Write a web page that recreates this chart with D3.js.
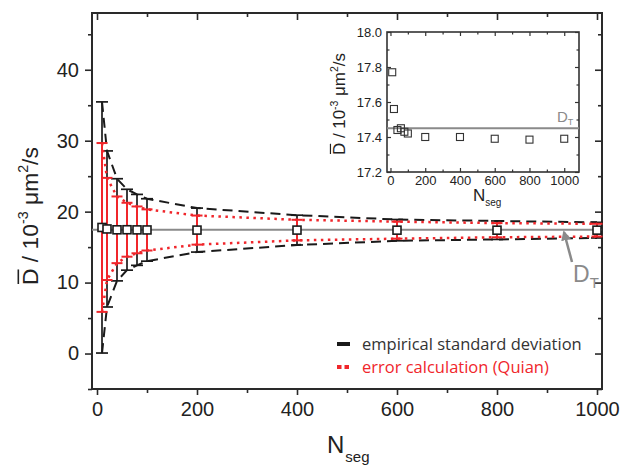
<!DOCTYPE html>
<html>
<head>
<meta charset="utf-8">
<script src="https://cdn.jsdelivr.net/npm/d3@7"></script>
<style>
  body { margin: 0; background: #fff; }
  svg { display: block; font-family: "Liberation Sans", Arial, sans-serif; }
</style>
</head>
<body>
<svg id="chart" width="621" height="469"></svg>
<script>
// number of segments
var nseg = [10, 20, 40, 60, 80, 100, 200, 400, 600, 800, 1000];
// mean diffusion coefficient (10^-3 um^2/s)
var meanD = [17.77, 17.56, 17.44, 17.45, 17.43, 17.42, 17.40, 17.40, 17.39, 17.385, 17.39];
// empirical standard deviation (half width of black bars)
var sdEmpirical = [17.7, 11.0, 7.2, 5.7, 5.0, 4.4, 3.1, 2.1, 1.5, 1.3, 1.1];
// error calculation (Quian), half width of red bars
var sdCalc = [11.9, 7.2, 4.7, 3.8, 3.3, 2.9, 2.05, 1.45, 1.2, 1.0, 0.9];
var trueD = 17.45;

var xTicks = [0, 200, 400, 600, 800, 1000];
var yTicks = [0, 10, 20, 30, 40];
var insetYTicks = [17.2, 17.4, 17.6, 17.8, 18.0];

var data = nseg.map(function (n, i) {
    return { n: n, d: meanD[i], sd: sdEmpirical[i], se: sdCalc[i] };
});

var svg = d3.select("#chart");
var frameColor = "#2a2a2a";
var red = "#f0262b";

// main plot area
var margin = { left: 92, top: 13, right: 602, bottom: 389 };
var x = d3.scaleLinear().domain([-10, 1010]).range([margin.left, margin.right]);
var y = d3.scaleLinear().domain([-5, 48]).range([margin.bottom, margin.top]);

var minorX = d3.range(100, 1001, 200);
var minorY = [-5, 5, 15, 25, 35, 45];

function styleAxis(g) {
    g.select(".domain").remove();
    g.selectAll("line").attr("stroke", frameColor).attr("stroke-width", 1.6);
    g.selectAll("text").attr("fill", "#222").attr("font-family", "Liberation Sans, Arial, sans-serif");
}

// frame
svg.append("rect")
    .attr("x", margin.left).attr("y", margin.top)
    .attr("width", margin.right - margin.left).attr("height", margin.bottom - margin.top)
    .attr("fill", "none").attr("stroke", frameColor).attr("stroke-width", 2);

// bottom axis, outward ticks
svg.append("g").attr("transform", "translate(0," + margin.bottom + ")")
    .call(d3.axisBottom(x).tickValues(xTicks).tickFormat(d3.format("d")).tickSizeInner(6).tickSizeOuter(0).tickPadding(7))
    .call(styleAxis)
    .selectAll("text").attr("font-size", 20);
svg.append("g").attr("transform", "translate(0," + margin.bottom + ")")
    .call(d3.axisBottom(x).tickValues(minorX).tickSize(4).tickFormat(""))
    .call(styleAxis);
// top axis, inward ticks
svg.append("g").attr("transform", "translate(0," + margin.top + ")")
    .call(d3.axisTop(x).tickValues(xTicks).tickSize(-7).tickFormat(""))
    .call(styleAxis);
svg.append("g").attr("transform", "translate(0," + margin.top + ")")
    .call(d3.axisTop(x).tickValues(minorX).tickSize(-4).tickFormat(""))
    .call(styleAxis);
// left axis, outward ticks
svg.append("g").attr("transform", "translate(" + margin.left + ",0)")
    .call(d3.axisLeft(y).tickValues(yTicks).tickSizeInner(7).tickSizeOuter(0).tickPadding(6))
    .call(styleAxis)
    .selectAll("text").attr("font-size", 20);
svg.append("g").attr("transform", "translate(" + margin.left + ",0)")
    .call(d3.axisLeft(y).tickValues(minorY).tickSize(4).tickFormat(""))
    .call(styleAxis);
// right axis, inward ticks
svg.append("g").attr("transform", "translate(" + margin.right + ",0)")
    .call(d3.axisRight(y).tickValues(yTicks).tickSize(-7).tickFormat(""))
    .call(styleAxis);
svg.append("g").attr("transform", "translate(" + margin.right + ",0)")
    .call(d3.axisRight(y).tickValues(minorY).tickSize(-4).tickFormat(""))
    .call(styleAxis);

// true D line
svg.append("line")
    .attr("x1", margin.left).attr("x2", margin.right)
    .attr("y1", y(trueD)).attr("y2", y(trueD))
    .attr("stroke", "#8a8a8a").attr("stroke-width", 2);

// envelopes
var upperLine = function (key) {
    return d3.line().x(function (d) { return x(d.n); }).y(function (d) { return y(d.d + d[key]); });
};
var lowerLine = function (key) {
    return d3.line().x(function (d) { return x(d.n); }).y(function (d) { return y(d.d - d[key]); });
};

// black error bars (empirical)
var eb = svg.append("g").attr("stroke", "#1a1a1a").attr("stroke-width", 1.7);
data.forEach(function (d) {
    eb.append("line").attr("x1", x(d.n)).attr("x2", x(d.n))
        .attr("y1", y(d.d + d.sd)).attr("y2", y(d.d - d.sd));
    [d.d + d.sd, d.d - d.sd].forEach(function (v) {
        eb.append("line").attr("x1", x(d.n) - 6).attr("x2", x(d.n) + 6)
            .attr("y1", y(v)).attr("y2", y(v));
    });
});
svg.append("path").datum(data).attr("d", upperLine("sd"))
    .attr("fill", "none").attr("stroke", "#1a1a1a").attr("stroke-width", 2).attr("stroke-dasharray", "10,6");
svg.append("path").datum(data).attr("d", lowerLine("sd"))
    .attr("fill", "none").attr("stroke", "#1a1a1a").attr("stroke-width", 2).attr("stroke-dasharray", "10,6");

// red error bars (calculation)
var rb = svg.append("g").attr("stroke", red).attr("stroke-width", 2);
data.forEach(function (d) {
    rb.append("line").attr("x1", x(d.n)).attr("x2", x(d.n))
        .attr("y1", y(d.d + d.se)).attr("y2", y(d.d - d.se));
    [d.d + d.se, d.d - d.se].forEach(function (v) {
        rb.append("line").attr("x1", x(d.n) - 5.5).attr("x2", x(d.n) + 5.5)
            .attr("y1", y(v)).attr("y2", y(v));
    });
});
svg.append("path").datum(data).attr("d", upperLine("se"))
    .attr("fill", "none").attr("stroke", red).attr("stroke-width", 2.5).attr("stroke-dasharray", "2.5,4.5");
svg.append("path").datum(data).attr("d", lowerLine("se"))
    .attr("fill", "none").attr("stroke", red).attr("stroke-width", 2.5).attr("stroke-dasharray", "2.5,4.5");

// data squares
svg.append("g").selectAll("rect").data(data).enter().append("rect")
    .attr("x", function (d) { return x(d.n) - 4; })
    .attr("y", function (d) { return y(d.d) - 4; })
    .attr("width", 8).attr("height", 8)
    .attr("fill", "#fff").attr("stroke", "#1a1a1a").attr("stroke-width", 1.6);

// D_T arrow annotation
svg.append("defs").append("marker")
    .attr("id", "arrow").attr("viewBox", "0 0 10 10").attr("refX", 8).attr("refY", 5)
    .attr("markerWidth", 4).attr("markerHeight", 4).attr("orient", "auto")
    .append("path").attr("d", "M0,0 L10,5 L0,10 z").attr("fill", "#8a8a8a");
svg.append("line")
    .attr("x1", x(950)).attr("y1", y(12.9))
    .attr("x2", x(934)).attr("y2", y(17.1))
    .attr("stroke", "#8a8a8a").attr("stroke-width", 2.5).attr("marker-end", "url(#arrow)");
var dt = svg.append("text").attr("x", x(952)).attr("y", y(10.1))
    .attr("fill", "#8a8a8a").attr("font-size", 23);
dt.append("tspan").text("D");
dt.append("tspan").attr("font-size", 15).attr("dy", 6).text("T");

// legend
var legendFont = "Open Sans, Liberation Sans, Arial, sans-serif";
svg.append("line").attr("x1", 337).attr("x2", 350).attr("y1", 344).attr("y2", 344)
    .attr("stroke", "#1a1a1a").attr("stroke-width", 4);
svg.append("text").attr("x", 362).attr("y", 349.5).attr("font-size", 16.5).attr("fill", "#333")
    .attr("font-family", legendFont)
    .text("empirical standard deviation");
svg.append("line").attr("x1", 337).attr("x2", 352).attr("y1", 367).attr("y2", 367)
    .attr("stroke", red).attr("stroke-width", 4).attr("stroke-dasharray", "4.5,3");
svg.append("text").attr("x", 362).attr("y", 372.5).attr("font-size", 16.5).attr("fill", red)
    .attr("font-family", legendFont)
    .text("error calculation (Quian)");

// axis titles
var xt = svg.append("text").attr("x", 327).attr("y", 453).attr("font-size", 24).attr("fill", "#222");
xt.append("tspan").text("N");
xt.append("tspan").attr("font-size", 15).attr("dy", 9).attr("dx", 1).text("seg");

// rotated y title: D-bar / 10^-3 um^2/s, running from yStart up to yEnd
function yTitle(xBase, yStart, yEnd, size) {
    var g = svg.append("g").attr("transform", "translate(" + xBase + "," + yStart + ") rotate(-90)");
    var t = g.append("text").attr("fill", "#222");
    function fill(s) {
        t.selectAll("tspan").remove();
        t.attr("font-size", s);
        t.append("tspan").text("D / 10");
        t.append("tspan").attr("font-size", s * 0.62).attr("dy", -s * 0.42).text("-3");
        t.append("tspan").attr("dy", s * 0.42).text(" \u03bcm");
        t.append("tspan").attr("font-size", s * 0.62).attr("dy", -s * 0.42).text("2");
        t.append("tspan").attr("dy", s * 0.42).text("/s");
    }
    fill(size);
    var len = t.node().getBBox().width;
    var fitted = Math.min(size * 1.15, size * (yStart - yEnd) / len);
    fill(fitted);
    // overbar on D
    var box = t.node().getExtentOfChar(0);
    g.append("line")
        .attr("x1", box.x + 1).attr("x2", box.x + box.width - 1)
        .attr("y1", -fitted * 0.86).attr("y2", -fitted * 0.86)
        .attr("stroke", "#222").attr("stroke-width", fitted * 0.07);
    return g;
}
yTitle(38, 285, 147, 22);

// inset
var inset = { left: 387, top: 32, right: 579, bottom: 172 };
var ix = d3.scaleLinear().domain([-20, 1085]).range([inset.left, inset.right]);
var iy = d3.scaleLinear().domain([17.2, 18.0]).range([inset.bottom, inset.top]);
var ig = svg.append("g");
ig.append("rect")
    .attr("x", inset.left).attr("y", inset.top)
    .attr("width", inset.right - inset.left).attr("height", inset.bottom - inset.top)
    .attr("fill", "#fff").attr("stroke", "#333").attr("stroke-width", 1.6);

var insetXTicks = [0, 200, 400, 600, 800, 1000];
var insetMinorX = [100, 300, 500, 700, 900];
var insetMinorY = [17.3, 17.5, 17.7, 17.9];

function styleInset(g) {
    g.select(".domain").remove();
    g.selectAll("line").attr("stroke", "#333").attr("stroke-width", 1.2);
    g.selectAll("text").attr("fill", "#222").attr("font-size", 13).attr("font-family", "Liberation Sans, Arial, sans-serif");
}
ig.append("g").attr("transform", "translate(0," + inset.bottom + ")")
    .call(d3.axisBottom(ix).tickValues(insetXTicks).tickFormat(d3.format("d")).tickSizeInner(-4).tickSizeOuter(0).tickPadding(4))
    .call(styleInset);
ig.append("g").attr("transform", "translate(0," + inset.bottom + ")")
    .call(d3.axisBottom(ix).tickValues(insetMinorX).tickSize(-2.5).tickFormat(""))
    .call(styleInset);
ig.append("g").attr("transform", "translate(0," + inset.top + ")")
    .call(d3.axisTop(ix).tickValues(insetXTicks).tickSize(-4).tickFormat(""))
    .call(styleInset);
ig.append("g").attr("transform", "translate(0," + inset.top + ")")
    .call(d3.axisTop(ix).tickValues(insetMinorX).tickSize(-2.5).tickFormat(""))
    .call(styleInset);
ig.append("g").attr("transform", "translate(" + inset.left + ",0)")
    .call(d3.axisLeft(iy).tickValues(insetYTicks).tickFormat(d3.format(".1f")).tickSizeInner(-4).tickSizeOuter(0).tickPadding(5))
    .call(styleInset);
ig.append("g").attr("transform", "translate(" + inset.left + ",0)")
    .call(d3.axisLeft(iy).tickValues(insetMinorY).tickSize(-2.5).tickFormat(""))
    .call(styleInset);
ig.append("g").attr("transform", "translate(" + inset.right + ",0)")
    .call(d3.axisRight(iy).tickValues(insetYTicks).tickSize(-4).tickFormat(""))
    .call(styleInset);
ig.append("g").attr("transform", "translate(" + inset.right + ",0)")
    .call(d3.axisRight(iy).tickValues(insetMinorY).tickSize(-2.5).tickFormat(""))
    .call(styleInset);

ig.append("line")
    .attr("x1", inset.left).attr("x2", inset.right)
    .attr("y1", iy(trueD)).attr("y2", iy(trueD))
    .attr("stroke", "#8a8a8a").attr("stroke-width", 1.8);
var idt = ig.append("text").attr("x", 557).attr("y", iy(trueD) - 6)
    .attr("fill", "#8a8a8a").attr("font-size", 15);
idt.append("tspan").text("D");
idt.append("tspan").attr("font-size", 9).attr("dy", 3).text("T");

ig.append("g").selectAll("rect").data(data).enter().append("rect")
    .attr("x", function (d) { return ix(d.n) - 3.5; })
    .attr("y", function (d) { return iy(d.d) - 3.5; })
    .attr("width", 7).attr("height", 7)
    .attr("fill", "none").attr("stroke", "#333").attr("stroke-width", 1.1);

var ixt = ig.append("text").attr("x", 473).attr("y", 201).attr("font-size", 17).attr("fill", "#222");
ixt.append("tspan").text("N");
ixt.append("tspan").attr("font-size", 10).attr("dy", 5).text("seg");

yTitle(345, 155, 53, 16);
</script>
</body>
</html>
